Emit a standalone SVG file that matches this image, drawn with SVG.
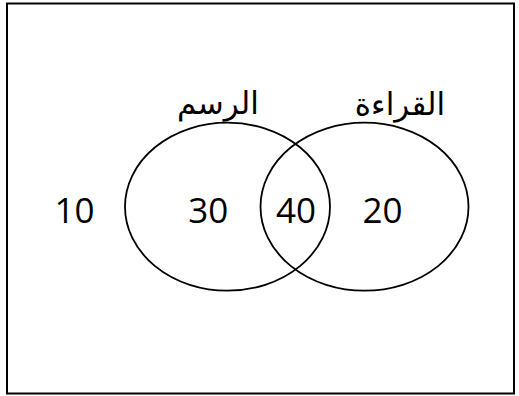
<svg xmlns="http://www.w3.org/2000/svg" width="519" height="396" viewBox="0 0 519 396">
<style>
.frame{fill:#fff;stroke:#000;stroke-width:2}
.set{fill:none;stroke:#000;stroke-width:1.8}
.num{font-family:"Open Sans","Noto Sans",sans-serif;font-size:35px;fill:#000;text-anchor:middle}
.lbl{font-family:"DejaVu Sans",sans-serif;font-size:31px;fill:#000;text-anchor:middle}
</style>
<rect class="frame" x="7" y="3.5" width="507" height="390"/>
<g id="outside"><text class="num" x="74.5" y="223">10</text></g>
<g id="drawing">
<ellipse class="set" cx="227.5" cy="206.7" rx="102.5" ry="84"/>
<text class="lbl" x="218" y="114" direction="rtl">الرسم</text>
<text class="num" x="208.3" y="223">30</text>
</g>
<g id="reading">
<ellipse class="set" cx="364.5" cy="206.7" rx="104" ry="84"/>
<text class="lbl" x="400" y="115" direction="rtl">القراءة</text>
<text class="num" x="382.5" y="223">20</text>
</g>
<g id="both"><text class="num" x="296" y="223">40</text></g>
<g id="connectors"></g>
</svg>
